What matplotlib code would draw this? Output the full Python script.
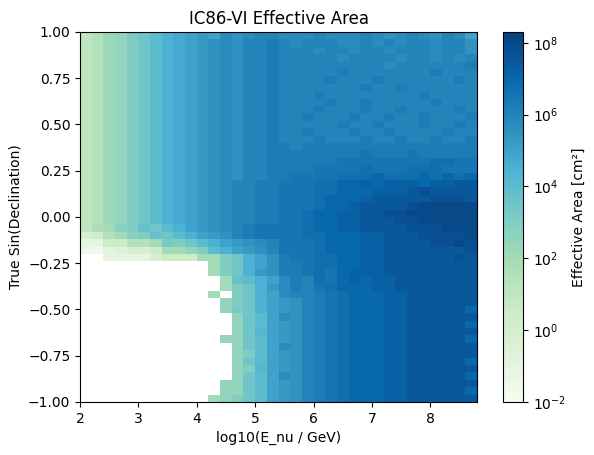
import numpy as np
import matplotlib
matplotlib.use("Agg")
import matplotlib.pyplot as plt
from matplotlib.colors import LogNorm

# log10(E) bin edges and sin(dec) bin edges
log_e_edges = np.round(np.arange(2.0, 8.8001, 0.2), 2)
sindec_edges = np.round(np.linspace(1.0, -1.0, 51), 3)

# Effective area, rows from sin(dec)=1 (top) downwards, 34 energy bins each.
# Letter code: a=1e-2, each next letter +0.5 decade, uppercase adds 0.25 decade; '.' = empty
left_rows = (
    ["ghIjKlmnNoOoPpPqq"] + ["ghIjklmnNoOpPpqqQ"] * 19 +
    ["ghIjklmnNoOpPqqQQ"] * 6 +
    ["gHiJkLlmnoOpPqQrr",
     "efhiJkLlmnoOpqQrr",
     "ccffhhiKklmnoOpPq",
     "bbcdeefiijkmnoOpq",
     "..ccccefffiiklnop",
     "...........iklnop",
     "...........iklnOp",
     "............iLmno",
     "............iklnO",
     "...........i.klno",
     "............jklno",
     "............jKlno",
     ".............jlmo",
     ".............jlmo",
     ".............jlMo",
     "............jjlmo",
     ".............jlmo",
     ".............jkmo",
     ".............jlmo",
     ".............jkMo",
     ".............jlmo",
     "............jjlmo",
     "............jjlmo",
     "...........ijklmo"]
)
right_rows = [
    "PPPqPPPqPpPqPpqPo", "qPqqqPPqPqPqqPqqp", "qqqPqqPqqPqqqPqqp",
    "qqqqqPqqqqPqqPqPq", "qqqqqqqqqPqqqqqqQ", "qqqqqQqqqqqqqQqqq",
    "qqqqQqqqQqqqqqqQq", "qqqqqqqQqqQqqqqqq", "qqqQqqqqqqqqQqqqq",
    "qqqqQqqQqqqqqQqqq", "qqqQqqqQqqQqqqqQq", "qqQqqqQqqQqqQqqqQ",
    "qqqqqQqqQqqqQqqQq", "qqQqqqQqqQqqqqQqq", "qqqQqqqQqqQqqQqqQ",
    "QqQQQQQQQQQQQQQQQ", "QQQQQQQrQQQrQQQQQ", "QQQQQrrrrrrrrRRrr",
    "QQQrrrrRrrrRRRrrr", "QrrrrRRRsRRRsRsRs", "rrrRRssSsSSSsSStt",
    "rrrRRsssSSStTtttt", "rrrRsssStttttTTTt", "rrrRssSttttTuuuuu",
    "rrRssSSttTTuuuuuu", "rrRssSStttTTuuuuu", "rrRssSSttttTTTuuu",
    "rrRRsssSStttTTTTu", "rrrRsssSSttttTTuT", "rrrRsssSStttttttT",
    "QrrRRssSSttttttTt", "QQrRRssSStttttttt", "QQrRrsSSStttttttt",
    "PQqRrsSsSSttttttt", "PQqrRsssSSttttttt", "PqqQrRsssSStttttt",
    "OpqQrRsssSStttttt", "OpqQrRsssSSttttts", "PpqQrRsssSStttttt",
    "OpqQrRsssSSttttts", "OpqQrRsssSStttttt", "OpqQrRsssSSttttts",
    "PpqQrRsssSStttttt", "OpqQrRsssSStttttt", "OpqQrRsssSSttttts",
    "OpqQrRsssSStttttt", "PpqQrRsssSSttttts", "OpqQrRsssSStttttt",
    "OpqQrRsssSSttttts", "OpqQrRsssSStttttt",
]

def decode(row):
    out = []
    for ch in row:
        if ch == ".":
            out.append(np.nan)
        else:
            v = -2 + 0.5 * (ord(ch.lower()) - ord("a")) + (0.25 if ch.isupper() else 0)
            out.append(10 ** v)
    return out

area = np.array([decode(l + r) for l, r in zip(left_rows, right_rows)])

fig = plt.figure(figsize=(5.94, 4.55), dpi=100)
ax = fig.add_axes([0.1347, 0.1165, 0.6684, 0.8132])
cax = fig.add_axes([503 / 594, 0.1165, 20 / 594, 0.8132])

norm = LogNorm(vmin=1e-2, vmax=2.0e8)
mesh = ax.pcolormesh(log_e_edges, sindec_edges, np.ma.masked_invalid(area),
                     cmap="GnBu", norm=norm, shading="flat")
ax.set_xlim(2, 8.8)
ax.set_ylim(-1, 1)
ax.set_xticks([2, 3, 4, 5, 6, 7, 8])
ax.set_yticks([-1.0, -0.75, -0.5, -0.25, 0.0, 0.25, 0.5, 0.75, 1.0])
ax.set_xlabel("log10(E_nu / GeV)")
ax.set_ylabel("True Sin(Declination)")
ax.set_title("IC86-VI Effective Area")

cb = fig.colorbar(mesh, cax=cax)
cb.set_ticks([1e-2, 1e0, 1e2, 1e4, 1e6, 1e8])
cb.ax.minorticks_off()
cb.set_label("Effective Area [cm²]")

fig.savefig("out.png", dpi=100)
